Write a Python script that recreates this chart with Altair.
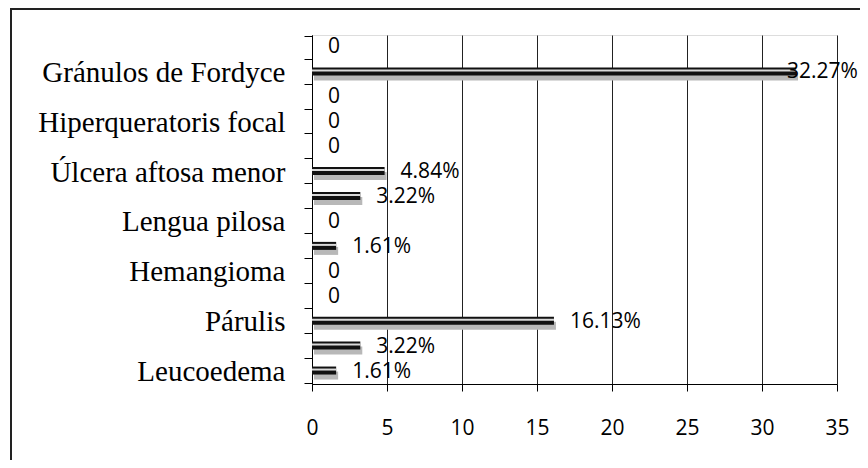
import json
import altair as alt
import pandas as pd

# Category labels (shown on every other row, as in the original chart)
categorias = ["Gránulos de Fordyce", "Hiperqueratoris focal", "Úlcera aftosa menor",
              "Lengua pilosa", "Hemangioma", "Párulis", "Leucoedema"]
# Bar values, top row to bottom row (14 rows)
valores = [0, 32.27, 0, 0, 0, 4.84, 3.22, 0, 1.61, 0, 0, 16.13, 3.22, 1.61]
# Data label texts
etiquetas = ["0", "32.27%", "0", "0", "0", "4.84%", "3.22%", "0", "1.61%",
             "0", "0", "16.13%", "3.22%", "1.61%"]
x_ticks = [0, 5, 10, 15, 20, 25, 30, 35]

df = pd.DataFrame({"fila": list(range(len(valores))), "valor": valores, "etiqueta": etiquetas})

label_expr = ("datum.value % 2 == 1 ? " + json.dumps(categorias, ensure_ascii=False)
              + "[(datum.value - 1) / 2] : ''")

y_enc = alt.Y("fila:O", sort="ascending", title=None,
              axis=alt.Axis(labelExpr=label_expr, labelFont="Liberation Serif",
                            labelFontSize=29, labelColor="black", labelPadding=19,
                            labelLimit=500,
                            tickBand="extent", tickSize=8, tickColor="black",
                            domainColor="black", grid=False, labelAngle=0))
x_enc = alt.X("valor:Q", title=None,
              scale=alt.Scale(domain=[0, 35], nice=False),
              axis=alt.Axis(values=x_ticks, grid=True, gridColor="#222222", gridWidth=1,
                            tickSize=7, tickColor="black", domainColor="black",
                            labelFont="Open Sans", labelFontSize=21, labelColor="black",
                            labelPadding=26, labelFlush=False))

base = alt.Chart(df)

sombra = base.mark_bar(color="#b8b8b8", size=8, yOffset=4, xOffset=2).encode(x=x_enc, y=y_enc)
barra = base.mark_bar(color="#111111", size=8, yOffset=-1).encode(x=x_enc, y=y_enc)
brillo = base.mark_bar(color="#d9d9d9", size=2, yOffset=-2).encode(x=x_enc, y=y_enc)

texto = base.transform_calculate(
    xlab="min(datum.valor, 30.6)"
).mark_text(align="left", baseline="middle", dx=16, font="Open Sans",
            fontSize=21, color="black").encode(
    x=alt.X("xlab:Q"), y=y_enc, text="etiqueta:N")

marco = alt.Chart(pd.DataFrame({"a": [0]})).mark_rect(
    fill="transparent", stroke="#222222", strokeWidth=2, clip=False
).encode(x=alt.value(-301), x2=alt.value(700), y=alt.value(-26), y2=alt.value(600))

chart = alt.layer(marco, sombra, barra, brillo, texto).properties(
    width=525, height=349,
    autosize=alt.AutoSizeParams(type="none"),
    padding={"left": 304, "top": 27, "right": 23, "bottom": 76},
).configure_view(stroke="transparent").configure(background="white")

chart.save("out.html", embed_options={"renderer": "svg", "actions": False})
